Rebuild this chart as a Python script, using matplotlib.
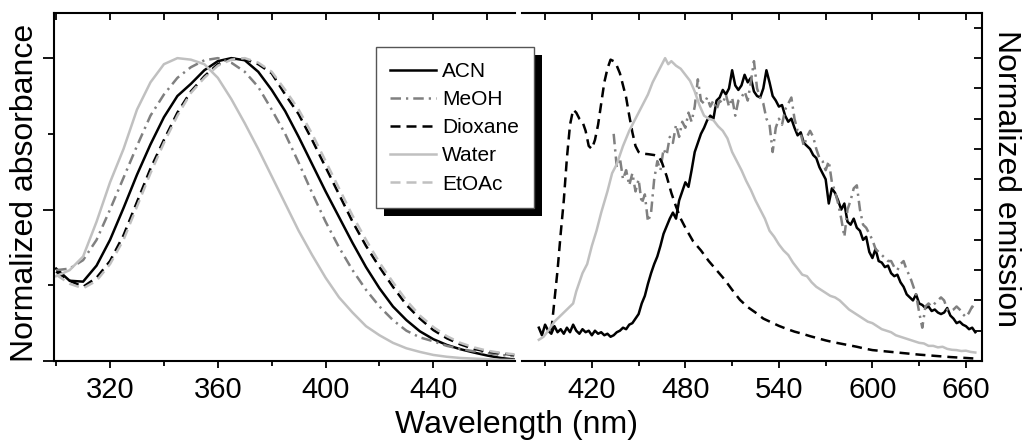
import matplotlib
matplotlib.use("Agg")
import matplotlib.pyplot as plt
from matplotlib.patches import Rectangle
from matplotlib.ticker import MultipleLocator

plt.rcParams['font.family'] = ['Liberation Sans', 'DejaVu Sans']

# ---- absorbance (left panel) ----
abs_nm = [300, 305, 310, 315, 320, 325, 330, 335, 340, 345, 350, 355, 360, 365, 370,
          375, 380, 385, 390, 395, 400, 405, 410, 415, 420, 425, 430, 435, 440, 445,
          450, 455, 460, 465, 470]
abs_acn = [0.305, 0.265, 0.262, 0.315, 0.40, 0.505, 0.615, 0.715, 0.805, 0.875, 0.915, 0.96,
           0.99, 1.0, 0.993, 0.955, 0.895, 0.825, 0.74, 0.65, 0.56, 0.475, 0.39, 0.31, 0.24,
           0.18, 0.135, 0.098, 0.072, 0.053, 0.039, 0.028, 0.018, 0.01, 0.005]
abs_meoh = [0.30, 0.305, 0.333, 0.40, 0.50, 0.605, 0.71, 0.81, 0.88, 0.935, 0.97, 0.993,
            1.0, 0.985, 0.955, 0.905, 0.83, 0.75, 0.655, 0.555, 0.46, 0.375, 0.30, 0.235,
            0.18, 0.135, 0.10, 0.078, 0.065, 0.05, 0.04, 0.032, 0.026, 0.02, 0.016]
abs_diox = [0.295, 0.265, 0.245, 0.275, 0.33, 0.415, 0.525, 0.635, 0.73, 0.82, 0.89, 0.94,
            0.98, 0.997, 0.997, 0.98, 0.95, 0.88, 0.815, 0.73, 0.64, 0.55, 0.46, 0.38, 0.31,
            0.245, 0.185, 0.14, 0.102, 0.075, 0.055, 0.04, 0.031, 0.025, 0.02]
abs_water = [0.28, 0.30, 0.345, 0.46, 0.59, 0.70, 0.83, 0.92, 0.98, 1.0, 0.995, 0.98, 0.935,
             0.865, 0.785, 0.70, 0.61, 0.52, 0.43, 0.35, 0.275, 0.21, 0.16, 0.115, 0.085,
             0.06, 0.042, 0.03, 0.02, 0.014, 0.01, 0.008, 0.006, 0.004, 0.003]
abs_etoac = [0.285, 0.255, 0.24, 0.265, 0.32, 0.40, 0.51, 0.62, 0.72, 0.81, 0.885, 0.935,
             0.975, 0.995, 1.0, 0.985, 0.955, 0.895, 0.83, 0.75, 0.66, 0.57, 0.48, 0.40,
             0.325, 0.26, 0.20, 0.15, 0.112, 0.082, 0.06, 0.045, 0.034, 0.027, 0.022]

# ---- emission (right panel) ----
em_nm = list(range(386, 667, 2))
em_acn = [0.11, 0.085, 0.12, 0.10, 0.09, 0.115, 0.095, 0.105, 0.09, 0.11, 0.095, 0.12, 0.10,
          0.09, 0.105, 0.095, 0.10, 0.085, 0.10, 0.09, 0.095, 0.085, 0.09, 0.08, 0.085, 0.095,
          0.10, 0.11, 0.105, 0.12, 0.125, 0.14, 0.155, 0.19, 0.215, 0.255, 0.29, 0.32, 0.345,
          0.38, 0.42, 0.445, 0.47, 0.49, 0.47, 0.53, 0.56, 0.59, 0.575, 0.63, 0.69, 0.72, 0.75,
          0.77, 0.795, 0.81, 0.80, 0.86, 0.87, 0.895, 0.88, 0.90, 0.96, 0.91, 0.895, 0.91,
          0.945, 0.92, 0.935, 0.89, 0.875, 0.87, 0.90, 0.96, 0.92, 0.875, 0.86, 0.84, 0.845,
          0.81, 0.79, 0.80, 0.77, 0.745, 0.755, 0.72, 0.71, 0.70, 0.68, 0.67, 0.64, 0.62, 0.60,
          0.52, 0.57, 0.555, 0.53, 0.50, 0.52, 0.46, 0.45, 0.47, 0.44, 0.43, 0.40, 0.41, 0.36,
          0.34, 0.37, 0.33, 0.325, 0.31, 0.315, 0.29, 0.28, 0.285, 0.26, 0.245, 0.22, 0.21,
          0.20, 0.22, 0.19, 0.185, 0.175, 0.18, 0.165, 0.17, 0.16, 0.155, 0.16, 0.175, 0.15,
          0.14, 0.125, 0.13, 0.12, 0.115, 0.105, 0.11, 0.095]

em_meoh_nm = list(range(434, 667, 2))
em_meoh = [0.75, 0.64, 0.67, 0.60, 0.63, 0.58, 0.62, 0.56, 0.60, 0.52, 0.55, 0.46, 0.49,
           0.60, 0.66, 0.63, 0.70, 0.68, 0.74, 0.72, 0.78, 0.74, 0.79, 0.77, 0.82, 0.79, 0.84,
           0.93, 0.86, 0.85, 0.87, 0.84, 0.86, 0.83, 0.86, 0.85, 0.88, 0.84, 0.87, 0.81, 0.86,
           0.87, 0.89, 0.86, 0.92, 0.99, 0.90, 0.87, 0.85, 0.80, 0.78, 0.69, 0.77, 0.80, 0.78,
           0.83, 0.85, 0.87, 0.80, 0.76, 0.75, 0.71, 0.74, 0.76, 0.74, 0.70, 0.67, 0.66, 0.63,
           0.66, 0.59, 0.56, 0.52, 0.47, 0.41, 0.50, 0.53, 0.57, 0.58, 0.50, 0.45, 0.44, 0.42,
           0.40, 0.37, 0.36, 0.35, 0.34, 0.33, 0.33, 0.31, 0.30, 0.32, 0.33, 0.30, 0.28, 0.25,
           0.22, 0.16, 0.11, 0.18, 0.19, 0.18, 0.19, 0.20, 0.21, 0.20, 0.17, 0.165, 0.17, 0.18,
           0.17, 0.155, 0.145, 0.16, 0.18, 0.17]

em_diox_nm = [394, 396, 398, 400, 402, 404, 406, 408, 410, 412, 414, 416, 418, 420, 422,
              424, 426, 428, 430, 432, 434, 436, 438, 440, 442, 444, 446, 448, 450, 452,
              456, 460, 463, 465, 468, 471, 474, 477, 480, 485, 490, 495, 500, 505, 510,
              515, 520, 525, 530, 535, 540, 545, 550, 555, 560, 565, 570, 575, 580, 585,
              590, 595, 600, 610, 620, 630, 640, 650, 660, 666]
em_diox = [0.10, 0.20, 0.30, 0.42, 0.53, 0.67, 0.78, 0.83, 0.82, 0.80, 0.79, 0.76, 0.71,
           0.70, 0.73, 0.78, 0.85, 0.92, 0.965, 0.995, 0.99, 0.975, 0.95, 0.91, 0.87, 0.81,
           0.755, 0.71, 0.69, 0.685, 0.683, 0.68, 0.675, 0.655, 0.61, 0.555, 0.51, 0.47, 0.44,
           0.395, 0.365, 0.33, 0.30, 0.27, 0.235, 0.202, 0.178, 0.16, 0.14, 0.128, 0.116,
           0.106, 0.097, 0.09, 0.082, 0.075, 0.068, 0.062, 0.057, 0.052, 0.047, 0.041, 0.036,
           0.031, 0.026, 0.021, 0.017, 0.013, 0.01, 0.008]

em_water_nm = [386, 389, 392, 396, 400, 402, 406, 408, 410, 414, 417, 420, 423, 426, 430,
               433, 436, 440, 444, 447, 450, 453, 456, 459, 462, 464, 466, 467, 469, 471,
               474, 477, 480, 483, 486, 489, 492, 495, 498, 501, 504, 507, 510, 513, 516,
               519, 522, 525, 528, 531, 534, 537, 540, 543, 546, 549, 552, 555, 558, 561,
               564, 567, 570, 573, 576, 579, 582, 585, 588, 591, 594, 597, 600, 603, 606,
               609, 612, 615, 618, 621, 624, 627, 630, 633, 636, 639, 642, 645, 648, 651,
               654, 657, 660, 663, 666]
em_water = [0.07, 0.08, 0.10, 0.13, 0.15, 0.16, 0.18, 0.19, 0.23, 0.29, 0.32, 0.38, 0.43,
            0.49, 0.56, 0.62, 0.65, 0.71, 0.76, 0.79, 0.82, 0.85, 0.88, 0.92, 0.95, 0.97,
            0.99, 1.0, 0.98, 0.99, 0.975, 0.965, 0.945, 0.925, 0.89, 0.845, 0.81, 0.80, 0.795,
            0.775, 0.76, 0.735, 0.69, 0.66, 0.63, 0.595, 0.565, 0.53, 0.50, 0.47, 0.43, 0.41,
            0.385, 0.365, 0.35, 0.325, 0.305, 0.285, 0.28, 0.26, 0.245, 0.235, 0.225, 0.215,
            0.21, 0.20, 0.185, 0.17, 0.16, 0.15, 0.14, 0.13, 0.125, 0.115, 0.105, 0.10, 0.095,
            0.085, 0.08, 0.075, 0.07, 0.065, 0.06, 0.058, 0.05, 0.05, 0.045, 0.047, 0.04,
            0.037, 0.036, 0.033, 0.034, 0.03, 0.028]

labels = ['ACN', 'MeOH', 'Dioxane', 'Water', 'EtOAc']
colors = ['black', '#808080', 'black', '#c0c0c0', '#c0c0c0']
dashes = [None, (4.2, 2.0, 0.9, 2.0), (4.0, 2.4), None, (4.0, 2.4)]
LW = 1.8

W, H = 1027, 443
fig = plt.figure(figsize=(W / 100, H / 100), dpi=100)
ax1 = fig.add_axes([54 / W, 1 - 361 / H, (515 - 54) / W, (361 - 12.7) / H])
ax2 = fig.add_axes([521.7 / W, 1 - 361 / H, (982 - 521.7) / W, (361 - 12.7) / H])


def style(line, i):
    line.set_color(colors[i])
    line.set_linewidth(LW)
    if dashes[i] is not None:
        line.set_dashes(dashes[i])


abs_series = [abs_acn, abs_meoh, abs_diox, abs_water, abs_etoac]
handles = []
for i, ys in enumerate(abs_series):
    ln, = ax1.plot(abs_nm, ys, label=labels[i])
    style(ln, i)
    handles.append(ln)

em_series = [(em_nm, em_acn, 0), (em_meoh_nm, em_meoh, 1),
             (em_diox_nm, em_diox, 2), (em_water_nm, em_water, 3)]
for xs, ys, i in em_series:
    ln, = ax2.plot(xs, ys)
    style(ln, i)

ax1.set_xlim(299.2, 470.3)
ax2.set_xlim(375.0, 670.3)
for ax in (ax1, ax2):
    ax.set_ylim(0, 1.15)
    for s in ax.spines.values():
        s.set_linewidth(1.5)

ax1.spines['right'].set_visible(False)
ax2.spines['left'].set_visible(False)

ax1.xaxis.set_major_locator(MultipleLocator(40))
ax1.xaxis.set_minor_locator(MultipleLocator(20))
ax2.xaxis.set_major_locator(MultipleLocator(60))
ax2.xaxis.set_minor_locator(MultipleLocator(30))

for ax in (ax1, ax2):
    ax.tick_params(axis='x', which='major', direction='out', length=5, width=1.3,
                   labelsize=21, pad=6)
    ax.tick_params(axis='x', which='minor', direction='out', length=3.6, width=1.3)
    ax.spines['top'].set_visible(False)
    top = ax.secondary_xaxis('top')
    top.xaxis.set_major_locator(ax.xaxis.get_major_locator())
    top.xaxis.set_minor_locator(ax.xaxis.get_minor_locator())
    top.tick_params(which='both', direction='in', length=5, width=1.3, labeltop=False)
    top.spines['top'].set_linewidth(1.5)

ax1.yaxis.set_major_locator(MultipleLocator(0.5))
ax1.yaxis.set_minor_locator(MultipleLocator(0.25))
ax1.tick_params(axis='y', which='major', direction='out', length=7.7, width=1.3, labelleft=False)
ax1.tick_params(axis='y', which='minor', direction='out', length=4, width=1.3)

ax2.set_yticks([0.1 * k for k in range(1, 12)])
ax2.tick_params(axis='y', left=False, labelleft=False, right=True, labelright=False,
                direction='in', length=5.8, width=1.3)

fig.text(25 / W, 1 - 193 / H, 'Normalized absorbance', rotation=90, ha='center',
         va='center', fontsize=23)
fig.text(1006.5 / W, 1 - 179 / H, 'Normalized emission', rotation=270, ha='center',
         va='center', fontsize=23)
fig.text(516.5 / W, 1 - 433 / H, 'Wavelength (nm)', ha='center', va='baseline', fontsize=23)

leg = fig.legend(handles=handles, loc='upper left',
                 bbox_to_anchor=(375.7 / W, 1 - 47.3 / H), borderaxespad=0,
                 fontsize=15, frameon=True, fancybox=False, shadow=False,
                 framealpha=1, facecolor='white',
                 handlelength=2.2, handletextpad=0.3, labelspacing=0.44,
                 borderpad=0.7)
leg.get_frame().set_edgecolor('#555555')
leg.get_frame().set_linewidth(1.0)
leg.set_zorder(10)

fig.canvas.draw()
bb = leg.get_window_extent()
fig.patches.append(Rectangle((bb.x0 + 8, bb.y0 - 8), bb.width, bb.height,
                             transform=None, facecolor='black', edgecolor='none',
                             zorder=9, figure=fig))

fig.savefig('out.png', dpi=100)
